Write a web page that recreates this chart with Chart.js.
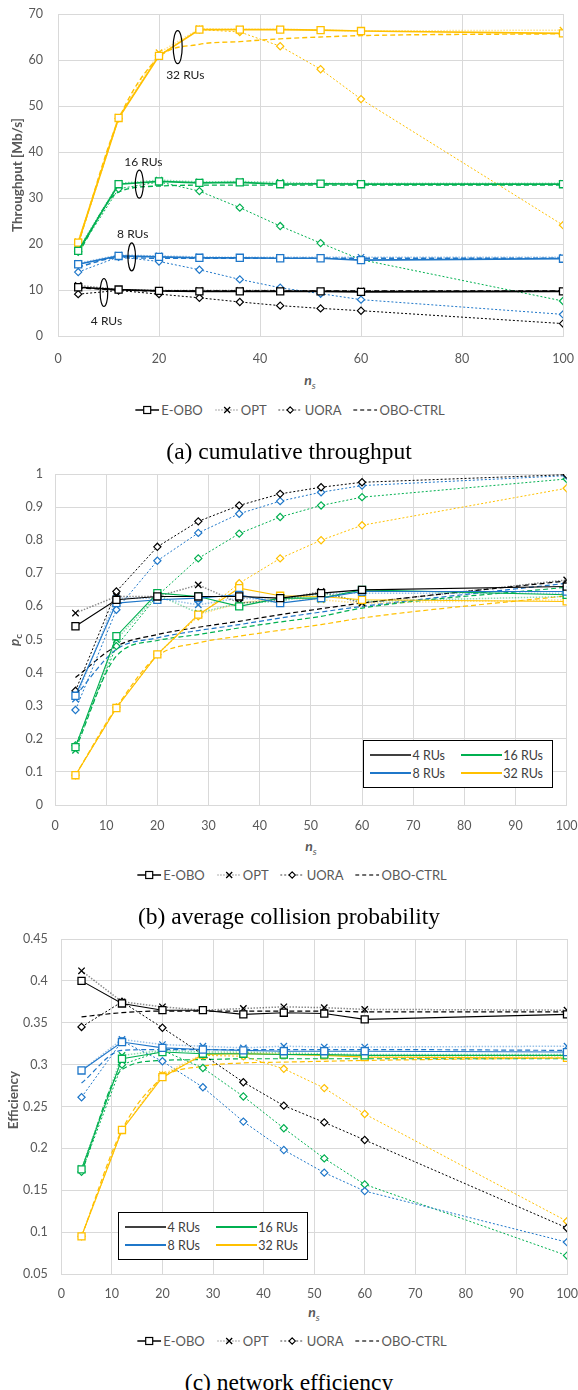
<!DOCTYPE html>
<html><head><meta charset="utf-8">
<script src="https://cdn.jsdelivr.net/npm/chart.js@4.4.1/dist/chart.umd.min.js"></script>
<style>
html,body{margin:0;padding:0;background:#fff}
body{position:relative;width:578px;height:1390px;overflow:hidden;font-family:Lato,"Liberation Sans",sans-serif}
canvas{position:absolute;left:0}
.c{position:absolute;transform:translate(-50%,-50%);white-space:nowrap}
.ytitle{font-weight:bold;font-size:13.5px;color:#595959;transform:translate(-50%,-50%) rotate(-90deg)}
.xtitle{font-weight:bold;font-style:italic;font-size:14px;color:#595959}
.xtitle sub{font-size:10px;font-weight:normal}
.cap{font-family:"Liberation Serif","Times New Roman",serif;font-size:23.5px;color:#000}
.leg{display:flex;align-items:center;gap:12px;font-size:13px;color:#595959}
.leg .i{display:flex;align-items:center;gap:2px}
.box{position:absolute;border:1px solid #000;background:#fff;box-sizing:border-box;width:190px;height:48px}
.box .k{position:absolute;height:2px;width:41px}
.box .t{position:absolute;font-size:12.5px;color:#404040;transform:translateY(-50%);white-space:nowrap}
</style></head>
<body>
<canvas id="ca" width="578" height="365" style="top:0px"></canvas>
<canvas id="cb" width="578" height="374" style="top:460px"></canvas>
<canvas id="cc" width="578" height="378" style="top:925px"></canvas>

<div class="c ytitle" style="left:17px;top:175px">Throughput [Mb/s]</div>
<div class="c xtitle" style="left:310px;top:381px">n<sub>s</sub></div>
<div class="c leg" id="lega" style="left:290px;top:410px"></div>
<div class="c cap" style="left:289px;top:451px">(a) cumulative throughput</div>

<div class="c ytitle" style="left:15px;top:640px"><i>p</i><sub style="font-size:10px">c</sub></div>
<div class="c xtitle" style="left:311px;top:847px">n<sub>s</sub></div>
<div class="c leg" id="legb" style="left:292px;top:875px"></div>
<div class="c cap" style="left:289px;top:916px">(b) average collision probability</div>
<div class="box" id="boxb" style="left:363px;top:740px"></div>

<div class="c ytitle" style="left:13px;top:1100px">Efficiency</div>
<div class="c xtitle" style="left:314px;top:1313px">n<sub>s</sub></div>
<div class="c leg" id="legc" style="left:292px;top:1341px"></div>
<div class="c cap" style="left:289px;top:1382px">(c) network efficiency</div>
<div class="box" id="boxc" style="left:118px;top:1212px"></div>

<script>
// ---------------- DATA ----------------
const NS = [4, 12, 20, 28, 36, 44, 52, 60, 100];
const RU_LABELS = ['4 RUs', '8 RUs', '16 RUs', '32 RUs'];
const ALGOS = ['E-OBO', 'OPT', 'UORA', 'OBO-CTRL'];

// (a) cumulative throughput [Mb/s]; rows: 4, 8, 16, 32 RUs
const thrEOBO = [
  [10.6, 10.1, 9.8, 9.7, 9.7, 9.7, 9.7, 9.6, 9.7],
  [15.6, 17.4, 17.2, 17.0, 17.0, 16.9, 16.9, 16.5, 16.8],
  [18.5, 33.0, 33.6, 33.3, 33.4, 33.0, 33.1, 33.0, 33.0],
  [20.3, 47.4, 60.9, 66.6, 66.6, 66.6, 66.5, 66.3, 65.8]
];
const thrOPT = [
  [11.0, 10.1, 9.9, 9.9, 9.9, 9.9, 9.8, 9.8, 9.8],
  [15.8, 17.6, 17.4, 17.2, 17.1, 17.1, 17.1, 17.1, 17.1],
  [18.8, 33.2, 33.9, 33.5, 33.6, 33.4, 33.2, 33.2, 33.2],
  [20.5, 47.6, 61.6, 66.8, 66.7, 66.7, 66.5, 66.3, 66.5]
];
const thrUORA = [
  [9.1, 9.9, 9.1, 8.3, 7.4, 6.6, 6.0, 5.5, 2.7],
  [13.9, 17.2, 16.2, 14.4, 12.3, 10.5, 9.2, 7.9, 4.7],
  [18.3, 32.0, 33.5, 31.5, 27.9, 23.9, 20.2, 16.6, 7.6],
  [20.0, 47.3, 61.0, 66.6, 66.1, 63.0, 58.0, 51.5, 24.1]
];
const thrCTRL = [
  [10.5, 10.0, 9.8, 9.8, 9.8, 9.8, 9.8, 9.8, 9.8],
  [15.0, 17.0, 16.9, 16.9, 16.9, 16.9, 16.9, 16.9, 16.9],
  [18.0, 31.3, 32.6, 32.8, 32.8, 32.8, 32.8, 32.8, 32.8],
  [20.0, 47.0, 60.6, 63.4, 64.0, 64.6, 65.0, 65.3, 65.7]
];

// (b) average collision probability
const pcEOBO = [
  [0.54, 0.62, 0.63, 0.63, 0.63, 0.625, 0.64, 0.65, 0.66],
  [0.33, 0.61, 0.62, 0.625, 0.635, 0.61, 0.625, 0.645, 0.645],
  [0.175, 0.51, 0.64, 0.63, 0.60, 0.625, 0.625, 0.65, 0.635],
  [0.09, 0.293, 0.455, 0.575, 0.655, 0.632, 0.63, 0.62, 0.615]
];
const pcOPT = [
  [0.58, 0.63, 0.63, 0.665, 0.61, 0.62, 0.645, 0.61, 0.68],
  [0.32, 0.625, 0.625, 0.605, 0.625, 0.62, 0.64, 0.64, 0.64],
  [0.165, 0.50, 0.635, 0.58, 0.61, 0.615, 0.64, 0.615, 0.63],
  [0.09, 0.295, 0.455, 0.575, 0.61, 0.625, 0.62, 0.61, 0.62]
];
const pcUORA = [
  [0.345, 0.645, 0.78, 0.857, 0.905, 0.94, 0.96, 0.975, 0.998],
  [0.287, 0.59, 0.738, 0.822, 0.88, 0.918, 0.945, 0.965, 0.995],
  [0.18, 0.48, 0.632, 0.745, 0.82, 0.87, 0.905, 0.93, 0.985],
  [0.09, 0.295, 0.455, 0.57, 0.67, 0.745, 0.80, 0.845, 0.957]
];
const pcCTRL = [
  [0.385, 0.48, 0.515, 0.537, 0.555, 0.575, 0.593, 0.61, 0.677],
  [0.33, 0.47, 0.505, 0.527, 0.545, 0.565, 0.583, 0.60, 0.67],
  [0.17, 0.45, 0.497, 0.515, 0.535, 0.553, 0.57, 0.595, 0.658],
  [0.09, 0.295, 0.45, 0.49, 0.51, 0.528, 0.545, 0.565, 0.632]
];

// (c) network efficiency
const effEOBO = [
  [0.40, 0.373, 0.365, 0.365, 0.36, 0.362, 0.361, 0.354, 0.36],
  [0.293, 0.327, 0.32, 0.318, 0.317, 0.316, 0.316, 0.316, 0.315],
  [0.175, 0.307, 0.315, 0.313, 0.313, 0.312, 0.312, 0.311, 0.311],
  [0.095, 0.222, 0.285, 0.312, 0.313, 0.312, 0.311, 0.309, 0.308]
];
const effOPT = [
  [0.412, 0.375, 0.369, 0.365, 0.367, 0.369, 0.368, 0.366, 0.365],
  [0.293, 0.33, 0.324, 0.322, 0.32, 0.322, 0.321, 0.321, 0.322],
  [0.176, 0.311, 0.317, 0.315, 0.315, 0.314, 0.313, 0.312, 0.312],
  [0.095, 0.222, 0.288, 0.313, 0.314, 0.313, 0.312, 0.31, 0.31]
];
const effUORA = [
  [0.345, 0.375, 0.344, 0.312, 0.279, 0.251, 0.231, 0.21, 0.105],
  [0.261, 0.328, 0.304, 0.273, 0.232, 0.198, 0.171, 0.149, 0.088],
  [0.172, 0.30, 0.317, 0.296, 0.262, 0.224, 0.188, 0.157, 0.072],
  [0.095, 0.222, 0.287, 0.311, 0.31, 0.295, 0.272, 0.241, 0.113]
];
const effCTRL = [
  [0.357, 0.362, 0.364, 0.364, 0.364, 0.364, 0.364, 0.363, 0.363],
  [0.278, 0.317, 0.318, 0.318, 0.318, 0.318, 0.318, 0.318, 0.317],
  [0.171, 0.294, 0.305, 0.306, 0.307, 0.307, 0.307, 0.307, 0.307],
  [0.095, 0.222, 0.284, 0.298, 0.302, 0.303, 0.304, 0.305, 0.308]
];

// annotation labels for chart (a) (data coordinates)
const ANNO_LABELS = ['4 RUs', '8 RUs', '16 RUs', '32 RUs'];
const ANNO_ELLIPSE_X = [9.1, 14.6, 16.1, 23.7];
const ANNO_ELLIPSE_Y = [9.46, 17.2, 33.0, 62.8];
const ANNO_TEXT_X = [9.6, 14.8, 16.9, 25.2];
const ANNO_TEXT_Y = [3.3, 22.1, 37.8, 56.7];

// ---------------- STYLE ----------------
const RU_COLORS = ['#000000', '#1f77c9', '#00b050', '#ffc000'];
const KEY_COLORS = ['#404040', '#1f77c9', '#00b050', '#ffc000'];
const GRID = '#d9d9d9';
const TICK_FONT = {family: 'Lato', size: 12.5};

function rgba(hex, a) {
  const n = parseInt(hex.slice(1), 16);
  return `rgba(${n >> 16},${(n >> 8) & 255},${n & 255},${a})`;
}

function buildSets(series, thin) {
  const out = [];
  series.forEach((algoRows, ai) => {
    algoRows.forEach((vals, ri) => {
      const col = RU_COLORS[ri];
      const ds = {
        label: ALGOS[ai] + ' ' + RU_LABELS[ri],
        data: NS.map((x, i) => ({x: x, y: vals[i]})),
        fill: false, borderColor: col, pointBorderColor: col, pointHoverRadius: 0,
        tension: 0
      };
      if (ai === 0) Object.assign(ds, {borderWidth: thin ? 1.1 : 1.7, pointStyle: 'rect', pointRadius: 5, pointBackgroundColor: '#fff', pointBorderWidth: 1.3});
      if (ai === 1) Object.assign(ds, {borderColor: rgba(col, 0.45), borderWidth: 1.5, borderDash: [1.5, 1.5], pointStyle: 'crossRot', pointRadius: 4.5, pointBorderWidth: 1.3});
      if (ai === 2) Object.assign(ds, {borderWidth: 1, borderDash: [2, 2], pointStyle: 'rectRot', pointRadius: 3.6, pointBackgroundColor: '#fff', pointBorderWidth: 1.2});
      if (ai === 3) Object.assign(ds, {borderWidth: thin ? 1.2 : 1.4, borderDash: [5, 3], pointRadius: 0, cubicInterpolationMode: 'monotone'});
      out.push(ds);
    });
  });
  return out;
}

const fmt = v => String(Math.round(v * 100) / 100);

function makeChart(id, datasets, cfg, plugins) {
  return new Chart(document.getElementById(id), {
    type: 'line',
    data: {datasets: datasets},
    options: {
      responsive: false, animation: false, devicePixelRatio: 1,
      events: [],
      layout: {padding: {top: cfg.padTop, right: cfg.padRight, left: 0, bottom: 0}},
      plugins: {legend: {display: false}, tooltip: {enabled: false}},
      scales: {
        x: {
          type: 'linear', min: 0, max: 100,
          ticks: {stepSize: cfg.xStep, padding: cfg.xPad, color: '#595959', font: TICK_FONT, maxRotation: 0, autoSkip: false},
          grid: {color: GRID, drawTicks: false}, border: {color: GRID},
          afterFit: s => { s.height = cfg.xH; s.paddingLeft = 0; s.paddingRight = 0; }
        },
        y: {
          min: cfg.yMin, max: cfg.yMax,
          ticks: {stepSize: cfg.yStep, padding: cfg.yPad, color: '#595959', font: TICK_FONT, callback: fmt},
          grid: {color: GRID, drawTicks: false}, border: {color: GRID},
          afterFit: s => { s.width = cfg.yW; s.paddingTop = 0; s.paddingBottom = 0; }
        }
      }
    },
    plugins: plugins || []
  });
}

const annoPlugin = {
  id: 'ruAnno',
  afterDatasetsDraw(chart) {
    const {ctx, scales: {x, y}} = chart;
    const rx = [3.8, 3.8, 4, 4.5], ry = [14, 14, 14, 16.5];
    ctx.save();
    ANNO_LABELS.forEach((lab, i) => {
      ctx.beginPath();
      ctx.strokeStyle = '#000'; ctx.lineWidth = 1.2;
      ctx.ellipse(x.getPixelForValue(ANNO_ELLIPSE_X[i]), y.getPixelForValue(ANNO_ELLIPSE_Y[i]), rx[i], ry[i], 0, 0, Math.PI * 2);
      ctx.stroke();
      ctx.fillStyle = '#222'; ctx.font = '12px Lato'; ctx.textAlign = 'center'; ctx.textBaseline = 'middle';
      ctx.fillText(lab, x.getPixelForValue(ANNO_TEXT_X[i]), y.getPixelForValue(ANNO_TEXT_Y[i]));
    });
    ctx.restore();
  }
};

makeChart('ca', buildSets([thrEOBO, thrOPT, thrUORA, thrCTRL], false),
  {padTop: 14, padRight: 15, xStep: 20, xPad: 15, xH: 29, yMin: 0, yMax: 70, yStep: 10, yPad: 15, yW: 58}, [annoPlugin]);
makeChart('cb', buildSets([pcEOBO, pcOPT, pcUORA, pcCTRL], true),
  {padTop: 14, padRight: 11.3, xStep: 10, xPad: 13, xH: 29, yMin: 0, yMax: 1, yStep: 0.1, yPad: 12, yW: 55}, []);
makeChart('cc', buildSets([effEOBO, effOPT, effUORA, effCTRL], true),
  {padTop: 14, padRight: 11, xStep: 10, xPad: 12, xH: 29, yMin: 0.05, yMax: 0.45, yStep: 0.05, yPad: 13.5, yW: 61.3}, []);

// ---------------- LEGENDS (HTML) ----------------
const KEY_SVG = [
  '<svg width="24" height="10"><line x1="0" y1="5" x2="24" y2="5" stroke="#000" stroke-width="1.3"/><rect x="8.5" y="1.5" width="7" height="7" fill="#fff" stroke="#000" stroke-width="1.2"/></svg>',
  '<svg width="24" height="10"><line x1="0" y1="5" x2="24" y2="5" stroke="#b0b0b0" stroke-width="1.3" stroke-dasharray="1.5,1.5"/><path d="M9 2 L15 8 M15 2 L9 8" stroke="#000" stroke-width="1.3"/></svg>',
  '<svg width="24" height="10"><line x1="0" y1="5" x2="24" y2="5" stroke="#404040" stroke-width="1.1" stroke-dasharray="2,2"/><path d="M12 1.8 L15.2 5 L12 8.2 L8.8 5 Z" fill="#fff" stroke="#000" stroke-width="1.1"/></svg>',
  '<svg width="24" height="10"><line x1="0" y1="5" x2="24" y2="5" stroke="#404040" stroke-width="1.3" stroke-dasharray="4,3"/></svg>'
];
['lega', 'legb', 'legc'].forEach(id => {
  document.getElementById(id).innerHTML = ALGOS.map((a, i) => `<span class="i">${KEY_SVG[i]}<span>${a}</span></span>`).join('');
});
['boxb', 'boxc'].forEach(id => {
  const el = document.getElementById(id);
  const pos = [[14, 6, 107], [32, 6, 107], [14, 97, 9], [32, 97, 9]];
  el.innerHTML = RU_LABELS.map((lab, i) => {
    const [y, kx, tr] = pos[i];
    return `<div class="k" style="left:${kx}px;top:${y - 1}px;background:${KEY_COLORS[i]}"></div><div class="t" style="right:${tr}px;top:${y}px">${lab}</div>`;
  }).join('');
});
</script>
</body></html>
